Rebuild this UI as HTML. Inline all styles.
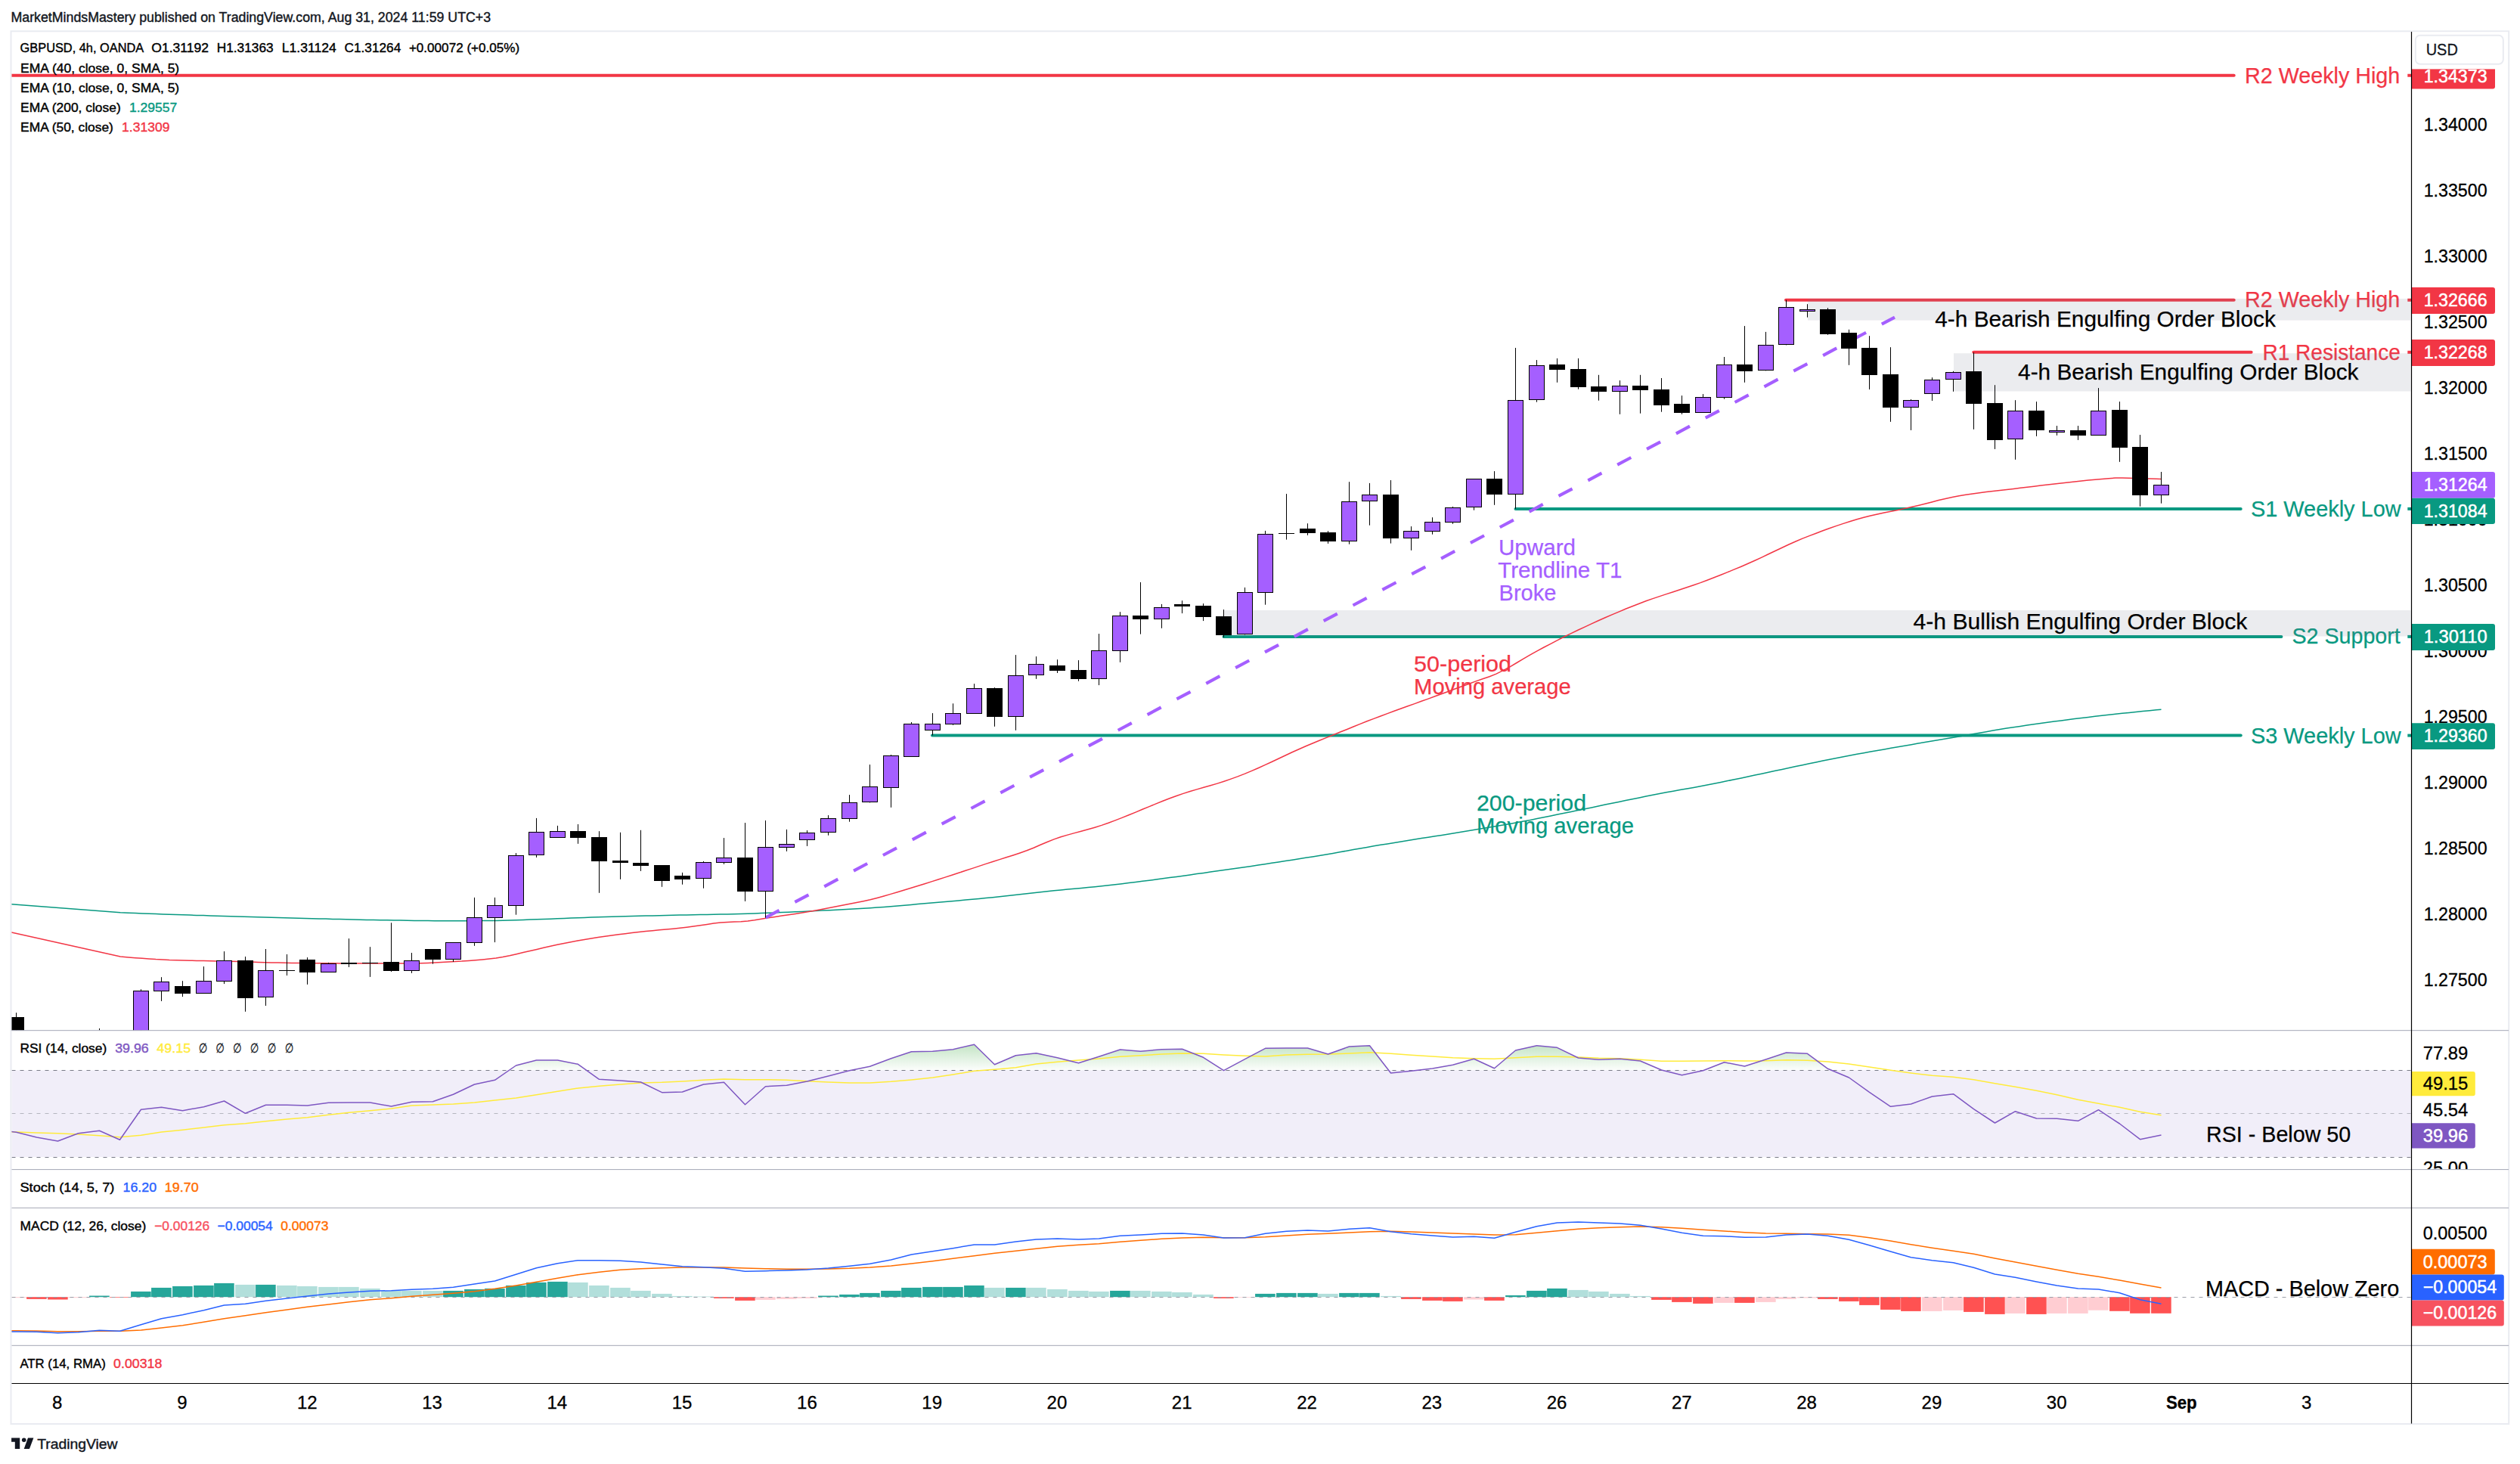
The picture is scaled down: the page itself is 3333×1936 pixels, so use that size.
<!DOCTYPE html>
<html><head><meta charset="utf-8"><title>GBPUSD 4h chart</title><style>html,body{margin:0;padding:0;background:#fff}svg{display:block}</style></head><body>
<svg width="3333" height="1936" viewBox="0 0 3333 1936" font-family='"Liberation Sans", "DejaVu Sans", sans-serif'>
<rect width="3333" height="1936" fill="#fff"/>
<defs>
<clipPath id="cm"><rect x="15.5" y="42" width="3173.5" height="1320.5"/></clipPath>
<clipPath id="cr"><rect x="15.5" y="1363" width="3173.5" height="183"/></clipPath>
<clipPath id="cra"><rect x="3190" y="1363" width="128" height="183.3"/></clipPath>
<clipPath id="cma"><rect x="3190" y="91.2" width="128" height="1271"/></clipPath>
<clipPath id="cd"><rect x="15.5" y="1598" width="3173.5" height="181"/></clipPath>
<linearGradient id="gg" gradientUnits="userSpaceOnUse" x1="0" y1="1372" x2="0" y2="1415"><stop offset="0" stop-color="#4caf50" stop-opacity="0.42"/><stop offset="1" stop-color="#4caf50" stop-opacity="0.02"/></linearGradient>
<clipPath id="cg"><rect x="15.5" y="1363" width="3173.5" height="52.3"/></clipPath>
</defs>
<rect x="14.5" y="41.3" width="3303.7" height="1841.7" fill="none" stroke="#e9ebf1" stroke-width="2"/>
<text x="14.5" y="28.9" font-size="17.6" fill="#131722" stroke="#131722" stroke-width="0.4" textLength="634.6" lengthAdjust="spacingAndGlyphs">MarketMindsMastery published on TradingView.com, Aug 31, 2024 11:59 UTC+3</text>
<g clip-path="url(#cm)">
<line x1="2362" y1="396.8" x2="2954.7" y2="396.8" stroke="#f23645" stroke-width="4" stroke-linecap="round"/>
<line x1="3184.3" y1="396.8" x2="3189" y2="396.8" stroke="#f23645" stroke-width="4"/>
<line x1="2610.3" y1="465.8" x2="2977.6" y2="465.8" stroke="#f23645" stroke-width="4" stroke-linecap="round"/>
<line x1="3184.3" y1="465.8" x2="3189" y2="465.8" stroke="#f23645" stroke-width="4"/>
<line x1="8" y1="99.7" x2="2954.7" y2="99.7" stroke="#f23645" stroke-width="4" stroke-linecap="round"/>
<line x1="3184.3" y1="99.7" x2="3189" y2="99.7" stroke="#f23645" stroke-width="4"/>
<line x1="2004.5" y1="672.9" x2="2963.7" y2="672.9" stroke="#089981" stroke-width="4" stroke-linecap="round"/>
<line x1="3184.3" y1="672.9" x2="3189" y2="672.9" stroke="#089981" stroke-width="4"/>
<line x1="1618.5" y1="841.9" x2="3017.4" y2="841.9" stroke="#089981" stroke-width="4" stroke-linecap="round"/>
<line x1="3184.3" y1="841.9" x2="3189" y2="841.9" stroke="#089981" stroke-width="4"/>
<line x1="1233" y1="972.6" x2="2963.7" y2="972.6" stroke="#089981" stroke-width="4" stroke-linecap="round"/>
<line x1="3184.3" y1="972.6" x2="3189" y2="972.6" stroke="#089981" stroke-width="4"/>
<text x="2969.0" y="109.9" font-size="30" fill="#f23645" stroke="#f23645" stroke-width="0.25" textLength="205.3" lengthAdjust="spacingAndGlyphs">R2 Weekly High</text>
<text x="2969.0" y="405.7" font-size="30" fill="#f23645" stroke="#f23645" stroke-width="0.25" textLength="205.3" lengthAdjust="spacingAndGlyphs">R2 Weekly High</text>
<text x="2992.5" y="475.7" font-size="30" fill="#f23645" stroke="#f23645" stroke-width="0.25" textLength="182.3" lengthAdjust="spacingAndGlyphs">R1 Resistance</text>
<text x="2977.0" y="682.9" font-size="30" fill="#089981" stroke="#089981" stroke-width="0.25" textLength="198.6" lengthAdjust="spacingAndGlyphs">S1 Weekly Low</text>
<text x="3031.5" y="850.8" font-size="30" fill="#089981" stroke="#089981" stroke-width="0.25" textLength="143.3" lengthAdjust="spacingAndGlyphs">S2 Support</text>
<text x="2977.0" y="982.6" font-size="30" fill="#089981" stroke="#089981" stroke-width="0.25" textLength="198.6" lengthAdjust="spacingAndGlyphs">S3 Weekly Low</text>
<rect x="2391" y="395" width="797.5" height="28.6" fill="rgba(115,122,142,0.145)"/>
<rect x="2584" y="467.2" width="604.5" height="50.3" fill="rgba(115,122,142,0.145)"/>
<rect x="1619.4" y="807" width="1569.1" height="34.5" fill="rgba(115,122,142,0.145)"/>
<text x="2559.3" y="432.0" font-size="30" fill="#000" stroke="#000" stroke-width="0.25" textLength="450.5" lengthAdjust="spacingAndGlyphs">4-h Bearish Engulfing Order Block</text>
<text x="2669.1" y="501.9" font-size="30" fill="#000" stroke="#000" stroke-width="0.25" textLength="450.4" lengthAdjust="spacingAndGlyphs">4-h Bearish Engulfing Order Block</text>
<text x="2530.6" y="831.9" font-size="30" fill="#000" stroke="#000" stroke-width="0.25" textLength="441.8" lengthAdjust="spacingAndGlyphs">4-h Bullish Engulfing Order Block</text>
<polyline points="10.0,1195.4 15.3,1195.8 159.2,1206.7 170.0,1207.2 179.0,1207.6 188.0,1207.9 197.0,1208.3 206.0,1208.6 215.0,1209.0 224.0,1209.3 233.0,1209.6 242.0,1209.8 251.0,1210.1 260.0,1210.4 269.0,1210.6 278.0,1210.9 287.0,1211.2 296.0,1211.4 305.0,1211.7 314.0,1211.9 323.0,1212.2 332.0,1212.4 341.0,1212.7 350.0,1212.9 359.0,1213.2 368.0,1213.4 377.0,1213.7 386.0,1214.0 395.0,1214.2 404.0,1214.4 413.0,1214.7 422.0,1214.9 431.0,1215.1 440.0,1215.4 449.0,1215.6 458.0,1215.8 467.0,1216.0 476.0,1216.2 485.0,1216.4 494.0,1216.5 503.0,1216.7 512.0,1216.8 521.0,1217.0 530.0,1217.1 539.0,1217.2 548.0,1217.4 557.0,1217.5 566.0,1217.6 575.0,1217.7 584.0,1217.7 593.0,1217.8 602.0,1217.8 611.0,1217.8 620.0,1217.7 629.0,1217.7 638.0,1217.6 647.0,1217.5 656.0,1217.4 665.0,1217.2 674.0,1217.0 683.0,1216.7 692.0,1216.4 701.0,1216.1 710.0,1215.8 719.0,1215.5 728.0,1215.2 737.0,1214.8 746.0,1214.5 755.0,1214.1 764.0,1213.8 773.0,1213.5 782.0,1213.1 791.0,1212.8 800.0,1212.5 809.0,1212.3 818.0,1212.0 827.0,1211.8 836.0,1211.5 845.0,1211.3 854.0,1211.1 863.0,1210.9 872.0,1210.7 881.0,1210.5 890.0,1210.3 899.0,1210.1 908.0,1209.9 917.0,1209.7 926.0,1209.5 935.0,1209.4 944.0,1209.2 953.0,1209.0 962.0,1208.9 971.0,1208.7 980.0,1208.5 989.0,1208.2 998.0,1207.9 1007.0,1207.6 1016.0,1207.3 1025.0,1207.0 1034.0,1206.6 1043.0,1206.2 1052.0,1205.8 1061.0,1205.4 1070.0,1205.0 1079.0,1204.6 1088.0,1204.1 1097.0,1203.7 1106.0,1203.3 1115.0,1202.8 1124.0,1202.3 1133.0,1201.8 1142.0,1201.3 1151.0,1200.7 1160.0,1200.1 1169.0,1199.4 1178.0,1198.7 1187.0,1198.0 1196.0,1197.2 1205.0,1196.4 1214.0,1195.6 1223.0,1194.8 1232.0,1194.0 1241.0,1193.3 1250.0,1192.5 1259.0,1191.7 1268.0,1190.9 1277.0,1190.1 1286.0,1189.3 1295.0,1188.4 1304.0,1187.6 1313.0,1186.7 1322.0,1185.8 1331.0,1184.8 1340.0,1183.8 1349.0,1182.8 1358.0,1181.8 1367.0,1180.8 1376.0,1179.8 1385.0,1178.8 1394.0,1177.8 1403.0,1176.9 1412.0,1176.0 1421.0,1175.2 1430.0,1174.4 1439.0,1173.6 1448.0,1172.7 1457.0,1171.7 1466.0,1170.7 1475.0,1169.7 1484.0,1168.7 1493.0,1167.6 1502.0,1166.5 1511.0,1165.3 1520.0,1164.2 1529.0,1163.0 1538.0,1161.8 1547.0,1160.6 1556.0,1159.4 1565.0,1158.2 1574.0,1156.9 1583.0,1155.6 1592.0,1154.4 1601.0,1153.1 1610.0,1151.8 1619.0,1150.5 1628.0,1149.2 1637.0,1147.9 1646.0,1146.7 1655.0,1145.4 1664.0,1144.0 1673.0,1142.7 1682.0,1141.3 1691.0,1140.0 1700.0,1138.6 1709.0,1137.2 1718.0,1135.8 1727.0,1134.3 1736.0,1132.9 1745.0,1131.4 1754.0,1129.9 1763.0,1128.4 1772.0,1126.8 1781.0,1125.2 1790.0,1123.6 1799.0,1122.0 1808.0,1120.4 1817.0,1118.8 1826.0,1117.3 1835.0,1115.9 1844.0,1114.4 1853.0,1112.9 1862.0,1111.5 1871.0,1110.1 1880.0,1108.6 1889.0,1107.2 1898.0,1105.8 1907.0,1104.4 1916.0,1102.9 1925.0,1101.5 1934.0,1100.0 1943.0,1098.6 1952.0,1097.1 1961.0,1095.6 1970.0,1094.0 1979.0,1092.5 1988.0,1091.0 1997.0,1089.4 2006.0,1087.8 2015.0,1086.1 2024.0,1084.4 2033.0,1082.6 2042.0,1080.8 2051.0,1079.0 2060.0,1077.1 2069.0,1075.2 2078.0,1073.4 2087.0,1071.5 2096.0,1069.7 2105.0,1067.9 2114.0,1066.0 2123.0,1064.1 2132.0,1062.3 2141.0,1060.4 2150.0,1058.6 2159.0,1056.7 2168.0,1054.9 2177.0,1053.1 2186.0,1051.3 2195.0,1049.6 2204.0,1047.8 2213.0,1046.2 2222.0,1044.6 2231.0,1043.0 2240.0,1041.4 2249.0,1039.7 2258.0,1038.0 2267.0,1036.2 2276.0,1034.4 2285.0,1032.6 2294.0,1030.7 2303.0,1028.9 2312.0,1027.0 2321.0,1025.1 2330.0,1023.2 2339.0,1021.2 2348.0,1019.3 2357.0,1017.4 2366.0,1015.5 2375.0,1013.6 2384.0,1011.7 2393.0,1009.8 2402.0,1007.9 2411.0,1006.1 2420.0,1004.3 2429.0,1002.5 2438.0,1000.7 2447.0,999.0 2456.0,997.3 2465.0,995.7 2474.0,994.1 2483.0,992.5 2492.0,990.9 2501.0,989.3 2510.0,987.7 2519.0,986.2 2528.0,984.7 2537.0,983.1 2546.0,981.6 2555.0,980.1 2564.0,978.6 2573.0,977.1 2582.0,975.5 2591.0,974.0 2600.0,972.4 2609.0,970.8 2618.0,969.3 2627.0,967.7 2636.0,966.1 2645.0,964.6 2654.0,963.1 2663.0,961.7 2672.0,960.4 2681.0,959.0 2690.0,957.8 2699.0,956.5 2708.0,955.3 2717.0,954.1 2726.0,952.9 2735.0,951.7 2744.0,950.6 2753.0,949.5 2762.0,948.4 2771.0,947.3 2780.0,946.3 2789.0,945.3 2798.0,944.3 2807.0,943.3 2816.0,942.4 2825.0,941.4 2834.0,940.5 2843.0,939.7 2852.0,938.8 2858.5,938.2" fill="none" stroke="#089981" stroke-width="1.5" stroke-linejoin="round"/>
<polyline points="10.0,1232.0 15.3,1233.1 159.2,1265.0 170.0,1265.9 179.0,1266.7 188.0,1267.3 197.0,1267.9 206.0,1268.5 215.0,1268.9 224.0,1269.4 233.0,1269.7 242.0,1270.0 251.0,1270.2 260.0,1270.4 269.0,1270.6 278.0,1270.7 287.0,1270.9 296.0,1271.1 305.0,1271.3 314.0,1271.5 323.0,1271.8 332.0,1272.1 341.0,1272.4 350.0,1272.7 359.0,1272.9 368.0,1273.1 377.0,1273.3 386.0,1273.4 395.0,1273.5 404.0,1273.6 413.0,1273.7 422.0,1273.7 431.0,1273.8 440.0,1273.8 449.0,1273.9 458.0,1273.9 467.0,1273.9 476.0,1273.9 485.0,1273.9 494.0,1273.9 503.0,1273.9 512.0,1273.9 521.0,1273.9 530.0,1273.9 539.0,1273.9 548.0,1273.9 557.0,1273.7 566.0,1273.4 575.0,1273.0 584.0,1272.6 593.0,1272.1 602.0,1271.6 611.0,1271.1 620.0,1270.4 629.0,1269.8 638.0,1269.0 647.0,1268.0 656.0,1267.0 665.0,1265.6 674.0,1263.8 683.0,1261.7 692.0,1259.6 701.0,1257.6 710.0,1255.5 719.0,1253.3 728.0,1251.2 737.0,1249.2 746.0,1247.4 755.0,1245.7 764.0,1244.0 773.0,1242.5 782.0,1241.0 791.0,1239.6 800.0,1238.3 809.0,1237.0 818.0,1235.8 827.0,1234.7 836.0,1233.6 845.0,1232.6 854.0,1231.6 863.0,1230.7 872.0,1229.8 881.0,1229.0 890.0,1228.2 899.0,1227.3 908.0,1226.3 917.0,1225.1 926.0,1223.7 935.0,1222.4 944.0,1221.1 953.0,1220.1 962.0,1219.5 971.0,1219.1 980.0,1218.7 989.0,1218.0 998.0,1216.8 1007.0,1215.2 1016.0,1213.8 1025.0,1212.4 1034.0,1211.1 1043.0,1209.8 1052.0,1208.4 1061.0,1207.0 1070.0,1205.5 1079.0,1203.9 1088.0,1202.3 1097.0,1200.5 1106.0,1198.8 1115.0,1197.0 1124.0,1195.3 1133.0,1193.6 1142.0,1191.8 1151.0,1189.8 1160.0,1187.5 1169.0,1185.0 1178.0,1182.4 1187.0,1179.7 1196.0,1177.0 1205.0,1174.3 1214.0,1171.5 1223.0,1168.7 1232.0,1165.9 1241.0,1163.0 1250.0,1160.1 1259.0,1157.2 1268.0,1154.3 1277.0,1151.3 1286.0,1148.4 1295.0,1145.4 1304.0,1142.4 1313.0,1139.5 1322.0,1136.6 1331.0,1133.8 1340.0,1131.0 1349.0,1128.0 1358.0,1124.8 1367.0,1121.2 1376.0,1117.3 1385.0,1113.5 1394.0,1109.9 1403.0,1106.8 1412.0,1104.1 1421.0,1101.6 1430.0,1099.2 1439.0,1096.8 1448.0,1094.2 1457.0,1091.4 1466.0,1088.3 1475.0,1084.9 1484.0,1081.4 1493.0,1077.8 1502.0,1074.1 1511.0,1070.3 1520.0,1066.6 1529.0,1062.9 1538.0,1059.3 1547.0,1055.8 1556.0,1052.5 1565.0,1049.4 1574.0,1046.5 1583.0,1043.9 1592.0,1041.3 1601.0,1038.8 1610.0,1036.1 1619.0,1033.2 1628.0,1030.1 1637.0,1026.9 1646.0,1023.4 1655.0,1019.6 1664.0,1015.7 1673.0,1011.6 1682.0,1007.5 1691.0,1003.2 1700.0,999.0 1709.0,994.8 1718.0,990.7 1727.0,986.8 1736.0,983.0 1745.0,979.3 1754.0,975.6 1763.0,972.0 1772.0,968.3 1781.0,964.7 1790.0,961.0 1799.0,957.4 1808.0,953.8 1817.0,950.4 1826.0,947.0 1835.0,943.6 1844.0,940.3 1853.0,937.0 1862.0,933.8 1871.0,930.6 1880.0,927.3 1889.0,924.1 1898.0,920.8 1907.0,917.5 1916.0,914.2 1925.0,910.8 1934.0,907.5 1943.0,904.2 1952.0,900.9 1961.0,897.8 1970.0,894.7 1979.0,891.1 1988.0,886.7 1997.0,881.8 2006.0,876.5 2015.0,871.2 2024.0,865.9 2033.0,860.8 2042.0,856.0 2051.0,851.3 2060.0,846.6 2069.0,842.0 2078.0,837.6 2087.0,833.3 2096.0,829.1 2105.0,824.9 2114.0,820.8 2123.0,816.8 2132.0,812.9 2141.0,809.1 2150.0,805.3 2159.0,801.7 2168.0,798.2 2177.0,794.8 2186.0,791.6 2195.0,788.6 2204.0,785.6 2213.0,782.7 2222.0,779.8 2231.0,776.8 2240.0,773.7 2249.0,770.6 2258.0,767.2 2267.0,763.8 2276.0,760.2 2285.0,756.6 2294.0,752.9 2303.0,749.2 2312.0,745.3 2321.0,741.3 2330.0,737.1 2339.0,732.8 2348.0,728.5 2357.0,724.2 2366.0,720.0 2375.0,716.0 2384.0,712.1 2393.0,708.6 2402.0,705.2 2411.0,701.8 2420.0,698.5 2429.0,695.4 2438.0,692.4 2447.0,689.5 2456.0,686.8 2465.0,684.3 2474.0,682.0 2483.0,679.9 2492.0,678.0 2501.0,676.2 2510.0,674.4 2519.0,672.6 2528.0,670.6 2537.0,668.5 2546.0,666.2 2555.0,663.9 2564.0,661.6 2573.0,659.5 2582.0,657.6 2591.0,655.8 2600.0,654.3 2609.0,652.9 2618.0,651.7 2627.0,650.5 2636.0,649.4 2645.0,648.4 2654.0,647.4 2663.0,646.4 2672.0,645.3 2681.0,644.3 2690.0,643.2 2699.0,642.1 2708.0,641.0 2717.0,639.9 2726.0,638.9 2735.0,637.9 2744.0,636.9 2753.0,635.9 2762.0,635.1 2771.0,634.3 2780.0,633.5 2789.0,632.7 2798.0,632.1 2807.0,632.0 2816.0,632.3 2825.0,632.6 2834.0,632.9 2843.0,633.1 2852.0,633.3 2858.5,633.4" fill="none" stroke="#f23645" stroke-width="1.5" stroke-linejoin="round"/>
<line x1="1012.5" y1="1213.6" x2="2506" y2="419.6" stroke="#a55fff" stroke-width="4.2" stroke-dasharray="20.5 23.5"/>
<line x1="21.5" y1="1339.2" x2="21.5" y2="1375.0" stroke="#000" stroke-width="1"/>
<rect x="11.0" y="1345" width="21" height="30" fill="#000"/>
<line x1="131.5" y1="1360.0" x2="131.5" y2="1375.0" stroke="#000" stroke-width="1"/>
<line x1="186.5" y1="1308.3" x2="186.5" y2="1375.0" stroke="#000" stroke-width="1"/>
<rect x="176.5" y="1310.5" width="20" height="64" fill="#a55fff" stroke="#000" stroke-width="1"/>
<line x1="213.5" y1="1292.2" x2="213.5" y2="1323.9" stroke="#000" stroke-width="1"/>
<rect x="203.5" y="1298.5" width="20" height="12" fill="#a55fff" stroke="#000" stroke-width="1"/>
<line x1="241.5" y1="1297.2" x2="241.5" y2="1318.1" stroke="#000" stroke-width="1"/>
<rect x="231.0" y="1304" width="21" height="10" fill="#000"/>
<line x1="269.5" y1="1278.1" x2="269.5" y2="1313.6" stroke="#000" stroke-width="1"/>
<rect x="259.5" y="1297.5" width="20" height="16" fill="#a55fff" stroke="#000" stroke-width="1"/>
<line x1="296.5" y1="1258.1" x2="296.5" y2="1301.1" stroke="#000" stroke-width="1"/>
<rect x="286.5" y="1270.5" width="20" height="27" fill="#a55fff" stroke="#000" stroke-width="1"/>
<line x1="324.5" y1="1265.0" x2="324.5" y2="1337.8" stroke="#000" stroke-width="1"/>
<rect x="314.0" y="1270" width="21" height="50" fill="#000"/>
<line x1="351.5" y1="1255.0" x2="351.5" y2="1330.0" stroke="#000" stroke-width="1"/>
<rect x="341.5" y="1283.5" width="20" height="35" fill="#a55fff" stroke="#000" stroke-width="1"/>
<line x1="379.5" y1="1262.0" x2="379.5" y2="1290.0" stroke="#000" stroke-width="1"/>
<rect x="369.0" y="1283" width="21" height="1" fill="#000"/>
<line x1="406.5" y1="1266.1" x2="406.5" y2="1301.9" stroke="#000" stroke-width="1"/>
<rect x="396.0" y="1269" width="21" height="17" fill="#000"/>
<line x1="434.5" y1="1273.0" x2="434.5" y2="1285.6" stroke="#000" stroke-width="1"/>
<rect x="424.5" y="1274.5" width="20" height="11" fill="#a55fff" stroke="#000" stroke-width="1"/>
<line x1="461.5" y1="1241.1" x2="461.5" y2="1278.9" stroke="#000" stroke-width="1"/>
<rect x="451.0" y="1273" width="21" height="2" fill="#000"/>
<line x1="489.5" y1="1252.2" x2="489.5" y2="1291.9" stroke="#000" stroke-width="1"/>
<rect x="479.0" y="1273" width="21" height="1" fill="#000"/>
<line x1="517.5" y1="1220.3" x2="517.5" y2="1285.0" stroke="#000" stroke-width="1"/>
<rect x="507.0" y="1272" width="21" height="12" fill="#000"/>
<line x1="544.5" y1="1260.0" x2="544.5" y2="1286.9" stroke="#000" stroke-width="1"/>
<rect x="534.5" y="1270.5" width="20" height="13" fill="#a55fff" stroke="#000" stroke-width="1"/>
<line x1="572.5" y1="1255.0" x2="572.5" y2="1274.7" stroke="#000" stroke-width="1"/>
<rect x="562.0" y="1255" width="21" height="14" fill="#000"/>
<line x1="599.5" y1="1246.4" x2="599.5" y2="1271.9" stroke="#000" stroke-width="1"/>
<rect x="589.5" y="1246.5" width="20" height="22" fill="#a55fff" stroke="#000" stroke-width="1"/>
<line x1="627.5" y1="1186.9" x2="627.5" y2="1250.8" stroke="#000" stroke-width="1"/>
<rect x="617.5" y="1213.5" width="20" height="33" fill="#a55fff" stroke="#000" stroke-width="1"/>
<line x1="654.5" y1="1186.9" x2="654.5" y2="1246.1" stroke="#000" stroke-width="1"/>
<rect x="644.5" y="1197.5" width="20" height="16" fill="#a55fff" stroke="#000" stroke-width="1"/>
<line x1="682.5" y1="1128.1" x2="682.5" y2="1209.7" stroke="#000" stroke-width="1"/>
<rect x="672.5" y="1131.5" width="20" height="66" fill="#a55fff" stroke="#000" stroke-width="1"/>
<line x1="709.5" y1="1081.9" x2="709.5" y2="1133.9" stroke="#000" stroke-width="1"/>
<rect x="699.5" y="1100.5" width="20" height="30" fill="#a55fff" stroke="#000" stroke-width="1"/>
<line x1="737.5" y1="1091.9" x2="737.5" y2="1107.5" stroke="#000" stroke-width="1"/>
<rect x="727.5" y="1099.5" width="20" height="8" fill="#a55fff" stroke="#000" stroke-width="1"/>
<line x1="764.5" y1="1090.0" x2="764.5" y2="1115.8" stroke="#000" stroke-width="1"/>
<rect x="754.0" y="1099" width="21" height="9" fill="#000"/>
<line x1="792.5" y1="1099.2" x2="792.5" y2="1180.8" stroke="#000" stroke-width="1"/>
<rect x="782.0" y="1107" width="21" height="32" fill="#000"/>
<line x1="820.5" y1="1100.8" x2="820.5" y2="1162.8" stroke="#000" stroke-width="1"/>
<rect x="810.0" y="1138" width="21" height="3" fill="#000"/>
<line x1="847.5" y1="1097.8" x2="847.5" y2="1151.9" stroke="#000" stroke-width="1"/>
<rect x="837.0" y="1141" width="21" height="4" fill="#000"/>
<line x1="875.5" y1="1144.2" x2="875.5" y2="1172.8" stroke="#000" stroke-width="1"/>
<rect x="865.0" y="1144" width="21" height="21" fill="#000"/>
<line x1="902.5" y1="1153.9" x2="902.5" y2="1169.7" stroke="#000" stroke-width="1"/>
<rect x="892.0" y="1158" width="21" height="5" fill="#000"/>
<line x1="930.5" y1="1138.9" x2="930.5" y2="1174.7" stroke="#000" stroke-width="1"/>
<rect x="920.5" y="1140.5" width="20" height="21" fill="#a55fff" stroke="#000" stroke-width="1"/>
<line x1="957.5" y1="1108.1" x2="957.5" y2="1142.8" stroke="#000" stroke-width="1"/>
<rect x="947.5" y="1134.5" width="20" height="6" fill="#a55fff" stroke="#000" stroke-width="1"/>
<line x1="985.5" y1="1088.1" x2="985.5" y2="1191.9" stroke="#000" stroke-width="1"/>
<rect x="975.0" y="1134" width="21" height="45" fill="#000"/>
<line x1="1012.5" y1="1085.0" x2="1012.5" y2="1213.6" stroke="#000" stroke-width="1"/>
<rect x="1002.5" y="1120.5" width="20" height="58" fill="#a55fff" stroke="#000" stroke-width="1"/>
<line x1="1040.5" y1="1096.9" x2="1040.5" y2="1125.8" stroke="#000" stroke-width="1"/>
<rect x="1030.5" y="1116.5" width="20" height="4" fill="#a55fff" stroke="#000" stroke-width="1"/>
<line x1="1067.5" y1="1098.1" x2="1067.5" y2="1118.9" stroke="#000" stroke-width="1"/>
<rect x="1057.5" y="1101.5" width="20" height="9" fill="#a55fff" stroke="#000" stroke-width="1"/>
<line x1="1095.5" y1="1078.1" x2="1095.5" y2="1104.7" stroke="#000" stroke-width="1"/>
<rect x="1085.5" y="1082.5" width="20" height="18" fill="#a55fff" stroke="#000" stroke-width="1"/>
<line x1="1123.5" y1="1051.1" x2="1123.5" y2="1086.7" stroke="#000" stroke-width="1"/>
<rect x="1113.5" y="1061.5" width="20" height="21" fill="#a55fff" stroke="#000" stroke-width="1"/>
<line x1="1150.5" y1="1011.1" x2="1150.5" y2="1061.4" stroke="#000" stroke-width="1"/>
<rect x="1140.5" y="1040.5" width="20" height="20" fill="#a55fff" stroke="#000" stroke-width="1"/>
<line x1="1178.5" y1="998.1" x2="1178.5" y2="1067.8" stroke="#000" stroke-width="1"/>
<rect x="1168.5" y="999.5" width="20" height="42" fill="#a55fff" stroke="#000" stroke-width="1"/>
<line x1="1205.5" y1="955.0" x2="1205.5" y2="1000.6" stroke="#000" stroke-width="1"/>
<rect x="1195.5" y="957.5" width="20" height="43" fill="#a55fff" stroke="#000" stroke-width="1"/>
<line x1="1233.5" y1="943.1" x2="1233.5" y2="972.5" stroke="#000" stroke-width="1"/>
<rect x="1223.5" y="957.5" width="20" height="8" fill="#a55fff" stroke="#000" stroke-width="1"/>
<line x1="1260.5" y1="930.3" x2="1260.5" y2="958.8" stroke="#000" stroke-width="1"/>
<rect x="1250.5" y="943.5" width="20" height="14" fill="#a55fff" stroke="#000" stroke-width="1"/>
<line x1="1288.5" y1="904.2" x2="1288.5" y2="943.6" stroke="#000" stroke-width="1"/>
<rect x="1278.5" y="910.5" width="20" height="33" fill="#a55fff" stroke="#000" stroke-width="1"/>
<line x1="1315.5" y1="909.2" x2="1315.5" y2="960.8" stroke="#000" stroke-width="1"/>
<rect x="1305.0" y="910" width="21" height="38" fill="#000"/>
<line x1="1343.5" y1="866.1" x2="1343.5" y2="965.8" stroke="#000" stroke-width="1"/>
<rect x="1333.5" y="893.5" width="20" height="54" fill="#a55fff" stroke="#000" stroke-width="1"/>
<line x1="1370.5" y1="868.1" x2="1370.5" y2="897.8" stroke="#000" stroke-width="1"/>
<rect x="1360.5" y="878.5" width="20" height="14" fill="#a55fff" stroke="#000" stroke-width="1"/>
<line x1="1398.5" y1="872.2" x2="1398.5" y2="890.0" stroke="#000" stroke-width="1"/>
<rect x="1388.0" y="880" width="21" height="7" fill="#000"/>
<line x1="1426.5" y1="873.1" x2="1426.5" y2="900.8" stroke="#000" stroke-width="1"/>
<rect x="1416.0" y="886" width="21" height="12" fill="#000"/>
<line x1="1453.5" y1="838.1" x2="1453.5" y2="906.1" stroke="#000" stroke-width="1"/>
<rect x="1443.5" y="860.5" width="20" height="37" fill="#a55fff" stroke="#000" stroke-width="1"/>
<line x1="1481.5" y1="809.2" x2="1481.5" y2="875.8" stroke="#000" stroke-width="1"/>
<rect x="1471.5" y="814.5" width="20" height="46" fill="#a55fff" stroke="#000" stroke-width="1"/>
<line x1="1508.5" y1="770.0" x2="1508.5" y2="838.6" stroke="#000" stroke-width="1"/>
<rect x="1498.0" y="814" width="21" height="5" fill="#000"/>
<line x1="1536.5" y1="798.9" x2="1536.5" y2="830.8" stroke="#000" stroke-width="1"/>
<rect x="1526.5" y="803.5" width="20" height="15" fill="#a55fff" stroke="#000" stroke-width="1"/>
<line x1="1563.5" y1="794.2" x2="1563.5" y2="811.1" stroke="#000" stroke-width="1"/>
<rect x="1553.0" y="799" width="21" height="3" fill="#000"/>
<line x1="1591.5" y1="798.1" x2="1591.5" y2="821.1" stroke="#000" stroke-width="1"/>
<rect x="1581.0" y="801" width="21" height="15" fill="#000"/>
<line x1="1618.5" y1="806.1" x2="1618.5" y2="842.8" stroke="#000" stroke-width="1"/>
<rect x="1608.0" y="815" width="21" height="25" fill="#000"/>
<line x1="1646.5" y1="776.9" x2="1646.5" y2="839.4" stroke="#000" stroke-width="1"/>
<rect x="1636.5" y="783.5" width="20" height="55" fill="#a55fff" stroke="#000" stroke-width="1"/>
<line x1="1673.5" y1="701.9" x2="1673.5" y2="799.7" stroke="#000" stroke-width="1"/>
<rect x="1663.5" y="706.5" width="20" height="77" fill="#a55fff" stroke="#000" stroke-width="1"/>
<line x1="1701.5" y1="653.1" x2="1701.5" y2="713.6" stroke="#000" stroke-width="1"/>
<rect x="1691.0" y="705" width="21" height="1" fill="#000"/>
<line x1="1729.5" y1="692.2" x2="1729.5" y2="707.8" stroke="#000" stroke-width="1"/>
<rect x="1719.0" y="699" width="21" height="6" fill="#000"/>
<line x1="1756.5" y1="702.2" x2="1756.5" y2="718.9" stroke="#000" stroke-width="1"/>
<rect x="1746.0" y="704" width="21" height="12" fill="#000"/>
<line x1="1784.5" y1="637.2" x2="1784.5" y2="719.7" stroke="#000" stroke-width="1"/>
<rect x="1774.5" y="663.5" width="20" height="52" fill="#a55fff" stroke="#000" stroke-width="1"/>
<line x1="1811.5" y1="638.9" x2="1811.5" y2="694.7" stroke="#000" stroke-width="1"/>
<rect x="1801.5" y="654.5" width="20" height="8" fill="#a55fff" stroke="#000" stroke-width="1"/>
<line x1="1839.5" y1="635.0" x2="1839.5" y2="718.6" stroke="#000" stroke-width="1"/>
<rect x="1829.0" y="654" width="21" height="58" fill="#000"/>
<line x1="1866.5" y1="696.1" x2="1866.5" y2="727.8" stroke="#000" stroke-width="1"/>
<rect x="1856.5" y="702.5" width="20" height="9" fill="#a55fff" stroke="#000" stroke-width="1"/>
<line x1="1894.5" y1="684.2" x2="1894.5" y2="706.7" stroke="#000" stroke-width="1"/>
<rect x="1884.5" y="690.5" width="20" height="12" fill="#a55fff" stroke="#000" stroke-width="1"/>
<line x1="1921.5" y1="670.0" x2="1921.5" y2="692.8" stroke="#000" stroke-width="1"/>
<rect x="1911.5" y="671.5" width="20" height="19" fill="#a55fff" stroke="#000" stroke-width="1"/>
<line x1="1949.5" y1="633.3" x2="1949.5" y2="674.7" stroke="#000" stroke-width="1"/>
<rect x="1939.5" y="633.5" width="20" height="37" fill="#a55fff" stroke="#000" stroke-width="1"/>
<line x1="1976.5" y1="623.1" x2="1976.5" y2="667.8" stroke="#000" stroke-width="1"/>
<rect x="1966.0" y="633" width="21" height="21" fill="#000"/>
<line x1="2004.5" y1="460.0" x2="2004.5" y2="672.8" stroke="#000" stroke-width="1"/>
<rect x="1994.5" y="529.5" width="20" height="124" fill="#a55fff" stroke="#000" stroke-width="1"/>
<line x1="2032.5" y1="476.1" x2="2032.5" y2="531.7" stroke="#000" stroke-width="1"/>
<rect x="2022.5" y="483.5" width="20" height="45" fill="#a55fff" stroke="#000" stroke-width="1"/>
<line x1="2059.5" y1="473.9" x2="2059.5" y2="505.8" stroke="#000" stroke-width="1"/>
<rect x="2049.0" y="482" width="21" height="7" fill="#000"/>
<line x1="2087.5" y1="473.9" x2="2087.5" y2="514.7" stroke="#000" stroke-width="1"/>
<rect x="2077.0" y="488" width="21" height="24" fill="#000"/>
<line x1="2114.5" y1="495.8" x2="2114.5" y2="529.7" stroke="#000" stroke-width="1"/>
<rect x="2104.0" y="511" width="21" height="7" fill="#000"/>
<line x1="2142.5" y1="503.1" x2="2142.5" y2="547.8" stroke="#000" stroke-width="1"/>
<rect x="2132.5" y="510.5" width="20" height="7" fill="#a55fff" stroke="#000" stroke-width="1"/>
<line x1="2169.5" y1="495.8" x2="2169.5" y2="546.7" stroke="#000" stroke-width="1"/>
<rect x="2159.0" y="510" width="21" height="6" fill="#000"/>
<line x1="2197.5" y1="500.0" x2="2197.5" y2="544.7" stroke="#000" stroke-width="1"/>
<rect x="2187.0" y="515" width="21" height="21" fill="#000"/>
<line x1="2224.5" y1="523.1" x2="2224.5" y2="547.8" stroke="#000" stroke-width="1"/>
<rect x="2214.0" y="534" width="21" height="12" fill="#000"/>
<line x1="2252.5" y1="521.1" x2="2252.5" y2="545.6" stroke="#000" stroke-width="1"/>
<rect x="2242.5" y="525.5" width="20" height="20" fill="#a55fff" stroke="#000" stroke-width="1"/>
<line x1="2280.5" y1="472.0" x2="2280.5" y2="527.7" stroke="#000" stroke-width="1"/>
<rect x="2270.5" y="482.5" width="20" height="43" fill="#a55fff" stroke="#000" stroke-width="1"/>
<line x1="2307.5" y1="431.1" x2="2307.5" y2="505.8" stroke="#000" stroke-width="1"/>
<rect x="2297.0" y="482" width="21" height="9" fill="#000"/>
<line x1="2335.5" y1="438.9" x2="2335.5" y2="490.3" stroke="#000" stroke-width="1"/>
<rect x="2325.5" y="456.5" width="20" height="33" fill="#a55fff" stroke="#000" stroke-width="1"/>
<line x1="2362.5" y1="396.7" x2="2362.5" y2="456.4" stroke="#000" stroke-width="1"/>
<rect x="2352.5" y="406.5" width="20" height="49" fill="#a55fff" stroke="#000" stroke-width="1"/>
<line x1="2390.5" y1="402.2" x2="2390.5" y2="419.7" stroke="#000" stroke-width="1"/>
<rect x="2380.5" y="409.5" width="20" height="2" fill="#a55fff" stroke="#000" stroke-width="1"/>
<line x1="2417.5" y1="407.2" x2="2417.5" y2="442.8" stroke="#000" stroke-width="1"/>
<rect x="2407.0" y="409" width="21" height="33" fill="#000"/>
<line x1="2445.5" y1="435.8" x2="2445.5" y2="482.8" stroke="#000" stroke-width="1"/>
<rect x="2435.0" y="440" width="21" height="21" fill="#000"/>
<line x1="2472.5" y1="444.2" x2="2472.5" y2="515.0" stroke="#000" stroke-width="1"/>
<rect x="2462.0" y="460" width="21" height="36" fill="#000"/>
<line x1="2500.5" y1="459.2" x2="2500.5" y2="557.8" stroke="#000" stroke-width="1"/>
<rect x="2490.0" y="495" width="21" height="44" fill="#000"/>
<line x1="2527.5" y1="528.1" x2="2527.5" y2="568.9" stroke="#000" stroke-width="1"/>
<rect x="2517.5" y="529.5" width="20" height="9" fill="#a55fff" stroke="#000" stroke-width="1"/>
<line x1="2555.5" y1="499.2" x2="2555.5" y2="530.0" stroke="#000" stroke-width="1"/>
<rect x="2545.5" y="502.5" width="20" height="18" fill="#a55fff" stroke="#000" stroke-width="1"/>
<line x1="2583.5" y1="490.8" x2="2583.5" y2="517.8" stroke="#000" stroke-width="1"/>
<rect x="2573.5" y="492.5" width="20" height="9" fill="#a55fff" stroke="#000" stroke-width="1"/>
<line x1="2610.5" y1="466.1" x2="2610.5" y2="567.8" stroke="#000" stroke-width="1"/>
<rect x="2600.0" y="491" width="21" height="43" fill="#000"/>
<line x1="2638.5" y1="509.2" x2="2638.5" y2="593.9" stroke="#000" stroke-width="1"/>
<rect x="2628.0" y="533" width="21" height="49" fill="#000"/>
<line x1="2665.5" y1="529.2" x2="2665.5" y2="607.8" stroke="#000" stroke-width="1"/>
<rect x="2655.5" y="543.5" width="20" height="37" fill="#a55fff" stroke="#000" stroke-width="1"/>
<line x1="2693.5" y1="531.1" x2="2693.5" y2="576.9" stroke="#000" stroke-width="1"/>
<rect x="2683.0" y="543" width="21" height="26" fill="#000"/>
<line x1="2720.5" y1="563.1" x2="2720.5" y2="575.8" stroke="#000" stroke-width="1"/>
<rect x="2710.5" y="569.5" width="20" height="2" fill="#a55fff" stroke="#000" stroke-width="1"/>
<line x1="2748.5" y1="563.1" x2="2748.5" y2="581.9" stroke="#000" stroke-width="1"/>
<rect x="2738.0" y="569" width="21" height="7" fill="#000"/>
<line x1="2775.5" y1="513.1" x2="2775.5" y2="575.6" stroke="#000" stroke-width="1"/>
<rect x="2765.5" y="543.5" width="20" height="32" fill="#a55fff" stroke="#000" stroke-width="1"/>
<line x1="2803.5" y1="531.1" x2="2803.5" y2="610.8" stroke="#000" stroke-width="1"/>
<rect x="2793.0" y="542" width="21" height="50" fill="#000"/>
<line x1="2830.5" y1="575.0" x2="2830.5" y2="669.7" stroke="#000" stroke-width="1"/>
<rect x="2820.0" y="591" width="21" height="64" fill="#000"/>
<line x1="2858.5" y1="624.0" x2="2858.5" y2="665.7" stroke="#000" stroke-width="1"/>
<rect x="2848.5" y="641.5" width="20" height="13" fill="#a55fff" stroke="#000" stroke-width="1"/>
</g>
<text x="1981.9" y="733.7" font-size="30" fill="#a55fff" stroke="#a55fff" stroke-width="0.25" textLength="102.1" lengthAdjust="spacingAndGlyphs">Upward</text>
<text x="1981.2" y="764.0" font-size="30" fill="#a55fff" stroke="#a55fff" stroke-width="0.25" textLength="164.2" lengthAdjust="spacingAndGlyphs">Trendline T1</text>
<text x="1982.6" y="793.8" font-size="30" fill="#a55fff" stroke="#a55fff" stroke-width="0.25" textLength="75.7" lengthAdjust="spacingAndGlyphs">Broke</text>
<text x="1870.1" y="888.3" font-size="30" fill="#f23645" stroke="#f23645" stroke-width="0.25" textLength="129.0" lengthAdjust="spacingAndGlyphs">50-period</text>
<text x="1870.1" y="918.3" font-size="30" fill="#f23645" stroke="#f23645" stroke-width="0.25" textLength="207.7" lengthAdjust="spacingAndGlyphs">Moving average</text>
<text x="1953.0" y="1072.2" font-size="30" fill="#089981" stroke="#089981" stroke-width="0.25" textLength="145.0" lengthAdjust="spacingAndGlyphs">200-period</text>
<text x="1953.0" y="1102.2" font-size="30" fill="#089981" stroke="#089981" stroke-width="0.25" textLength="208.0" lengthAdjust="spacingAndGlyphs">Moving average</text>
<text x="26.6" y="69.3" font-size="17.4" fill="#000" stroke="#000" stroke-width="0.4" textLength="163.6" lengthAdjust="spacingAndGlyphs">GBPUSD, 4h, OANDA</text>
<text x="200.3" y="69.3" font-size="17.4" fill="#000" stroke="#000" stroke-width="0.4" textLength="75.8" lengthAdjust="spacingAndGlyphs">O1.31192</text>
<text x="286.7" y="69.3" font-size="17.4" fill="#000" stroke="#000" stroke-width="0.4" textLength="74.9" lengthAdjust="spacingAndGlyphs">H1.31363</text>
<text x="372.8" y="69.3" font-size="17.4" fill="#000" stroke="#000" stroke-width="0.4" textLength="72.1" lengthAdjust="spacingAndGlyphs">L1.31124</text>
<text x="455.6" y="69.3" font-size="17.4" fill="#000" stroke="#000" stroke-width="0.4" textLength="74.6" lengthAdjust="spacingAndGlyphs">C1.31264</text>
<text x="540.9" y="69.3" font-size="17.4" fill="#000" stroke="#000" stroke-width="0.4" textLength="146.3" lengthAdjust="spacingAndGlyphs">+0.00072 (+0.05%)</text>
<text x="27.1" y="95.8" font-size="17.4" fill="#000" stroke="#000" stroke-width="0.4" textLength="210.1" lengthAdjust="spacingAndGlyphs">EMA (40, close, 0, SMA, 5)</text>
<text x="27.1" y="121.6" font-size="17.4" fill="#000" stroke="#000" stroke-width="0.4" textLength="210.1" lengthAdjust="spacingAndGlyphs">EMA (10, close, 0, SMA, 5)</text>
<text x="27.1" y="147.7" font-size="17.4" fill="#000" stroke="#000" stroke-width="0.4" textLength="132.6" lengthAdjust="spacingAndGlyphs">EMA (200, close)</text>
<text x="170.9" y="147.7" font-size="17.4" fill="#089981" stroke="#089981" stroke-width="0.4" textLength="63.5" lengthAdjust="spacingAndGlyphs">1.29557</text>
<text x="27.1" y="173.7" font-size="17.4" fill="#000" stroke="#000" stroke-width="0.4" textLength="122.8" lengthAdjust="spacingAndGlyphs">EMA (50, close)</text>
<text x="161.1" y="173.7" font-size="17.4" fill="#f23645" stroke="#f23645" stroke-width="0.4" textLength="63.3" lengthAdjust="spacingAndGlyphs">1.31309</text>
<text x="3205.7" y="172.8" font-size="24" fill="#000" stroke="#000" stroke-width="0.3" textLength="83.9" lengthAdjust="spacingAndGlyphs">1.34000</text>
<text x="3205.7" y="259.8" font-size="24" fill="#000" stroke="#000" stroke-width="0.3" textLength="83.9" lengthAdjust="spacingAndGlyphs">1.33500</text>
<text x="3205.7" y="346.8" font-size="24" fill="#000" stroke="#000" stroke-width="0.3" textLength="83.9" lengthAdjust="spacingAndGlyphs">1.33000</text>
<text x="3205.7" y="433.8" font-size="24" fill="#000" stroke="#000" stroke-width="0.3" textLength="83.9" lengthAdjust="spacingAndGlyphs">1.32500</text>
<text x="3205.7" y="520.8" font-size="24" fill="#000" stroke="#000" stroke-width="0.3" textLength="83.9" lengthAdjust="spacingAndGlyphs">1.32000</text>
<text x="3205.7" y="607.8" font-size="24" fill="#000" stroke="#000" stroke-width="0.3" textLength="83.9" lengthAdjust="spacingAndGlyphs">1.31500</text>
<text x="3205.7" y="694.8" font-size="24" fill="#000" stroke="#000" stroke-width="0.3" textLength="83.9" lengthAdjust="spacingAndGlyphs">1.31000</text>
<text x="3205.7" y="781.8" font-size="24" fill="#000" stroke="#000" stroke-width="0.3" textLength="83.9" lengthAdjust="spacingAndGlyphs">1.30500</text>
<text x="3205.7" y="868.8" font-size="24" fill="#000" stroke="#000" stroke-width="0.3" textLength="83.9" lengthAdjust="spacingAndGlyphs">1.30000</text>
<text x="3205.7" y="955.8" font-size="24" fill="#000" stroke="#000" stroke-width="0.3" textLength="83.9" lengthAdjust="spacingAndGlyphs">1.29500</text>
<text x="3205.7" y="1042.8" font-size="24" fill="#000" stroke="#000" stroke-width="0.3" textLength="83.9" lengthAdjust="spacingAndGlyphs">1.29000</text>
<text x="3205.7" y="1129.8" font-size="24" fill="#000" stroke="#000" stroke-width="0.3" textLength="83.9" lengthAdjust="spacingAndGlyphs">1.28500</text>
<text x="3205.7" y="1216.8" font-size="24" fill="#000" stroke="#000" stroke-width="0.3" textLength="83.9" lengthAdjust="spacingAndGlyphs">1.28000</text>
<text x="3205.7" y="1303.8" font-size="24" fill="#000" stroke="#000" stroke-width="0.3" textLength="83.9" lengthAdjust="spacingAndGlyphs">1.27500</text>
<path d="M3190 91.2h110v23.4a3 3 0 0 1 -3 3h-107z" fill="#f23645"/>
<text x="3205.7" y="109.3" font-size="24" fill="#fff" stroke="#fff" stroke-width="0.5" textLength="83.9" lengthAdjust="spacingAndGlyphs">1.34373</text>
<path d="M3190 380h107a3 3 0 0 1 3 3v29a3 3 0 0 1 -3 3h-107z" fill="#f23645"/>
<text x="3205.7" y="405.3" font-size="24" fill="#fff" stroke="#fff" stroke-width="0.5" textLength="83.9" lengthAdjust="spacingAndGlyphs">1.32666</text>
<path d="M3190 449h107a3 3 0 0 1 3 3v29a3 3 0 0 1 -3 3h-107z" fill="#f23645"/>
<text x="3205.7" y="474.3" font-size="24" fill="#fff" stroke="#fff" stroke-width="0.5" textLength="83.9" lengthAdjust="spacingAndGlyphs">1.32268</text>
<path d="M3190 624h107a3 3 0 0 1 3 3v28.799999999999955a3 3 0 0 1 -3 3h-107z" fill="#a55fff"/>
<text x="3205.7" y="649.2" font-size="24" fill="#fff" stroke="#fff" stroke-width="0.5" textLength="83.9" lengthAdjust="spacingAndGlyphs">1.31264</text>
<path d="M3190 658.8h107a3 3 0 0 1 3 3v28.300000000000068a3 3 0 0 1 -3 3h-107z" fill="#089981"/>
<text x="3205.7" y="683.8" font-size="24" fill="#fff" stroke="#fff" stroke-width="0.5" textLength="83.9" lengthAdjust="spacingAndGlyphs">1.31084</text>
<path d="M3190 825h107a3 3 0 0 1 3 3v29a3 3 0 0 1 -3 3h-107z" fill="#089981"/>
<text x="3205.7" y="850.3" font-size="24" fill="#fff" stroke="#fff" stroke-width="0.5" textLength="83.9" lengthAdjust="spacingAndGlyphs">1.30110</text>
<path d="M3190 956.3h107a3 3 0 0 1 3 3v28.700000000000045a3 3 0 0 1 -3 3h-107z" fill="#089981"/>
<text x="3205.7" y="981.4" font-size="24" fill="#fff" stroke="#fff" stroke-width="0.5" textLength="83.9" lengthAdjust="spacingAndGlyphs">1.29360</text>
<rect x="3190.2" y="42.5" width="126.8" height="48.7" fill="#fff"/>
<rect x="3194.8" y="46.8" width="116" height="38" rx="6" fill="#fff" stroke="#e9ebf1" stroke-width="2"/>
<text x="3208.7" y="73.3" font-size="22" fill="#131722" stroke="#131722" stroke-width="0.3" textLength="42.2" lengthAdjust="spacingAndGlyphs">USD</text>
<g clip-path="url(#cr)">
<rect x="15.5" y="1415.3" width="3173.5" height="114.8" fill="#f1eef9"/>
<path d="M10.0 1496.0 L21.5 1497.3 L48.5 1504.0 L76.5 1509.0 L103.5 1498.7 L131.5 1495.3 L158.5 1507.3 L186.5 1467.3 L213.5 1464.3 L241.5 1468.7 L269.5 1463.7 L296.5 1456.0 L324.5 1472.3 L351.5 1461.3 L379.5 1461.3 L406.5 1462.0 L434.5 1458.3 L461.5 1458.0 L489.5 1458.0 L517.5 1463.0 L544.5 1457.3 L572.5 1456.7 L599.5 1447.3 L627.5 1434.0 L654.5 1428.3 L682.5 1409.0 L709.5 1402.0 L737.5 1402.0 L764.5 1407.3 L792.5 1427.3 L820.5 1429.0 L847.5 1431.0 L875.5 1444.7 L902.5 1444.0 L930.5 1434.0 L957.5 1431.3 L985.5 1460.7 L1012.5 1436.7 L1040.5 1435.3 L1067.5 1430.0 L1095.5 1423.0 L1123.5 1415.7 L1150.5 1410.3 L1178.5 1399.7 L1205.5 1390.7 L1233.5 1390.3 L1260.5 1387.7 L1288.5 1381.3 L1315.5 1407.7 L1343.5 1395.7 L1370.5 1392.7 L1398.5 1398.7 L1426.5 1405.7 L1453.5 1397.3 L1481.5 1388.0 L1508.5 1390.3 L1536.5 1387.7 L1563.5 1387.3 L1591.5 1398.3 L1618.5 1415.7 L1646.5 1400.7 L1673.5 1386.3 L1701.5 1386.0 L1729.5 1386.0 L1756.5 1394.0 L1784.5 1384.0 L1811.5 1382.7 L1839.5 1419.0 L1866.5 1416.3 L1894.5 1413.0 L1921.5 1408.3 L1949.5 1400.3 L1976.5 1412.7 L2004.5 1389.0 L2032.5 1382.7 L2059.5 1385.3 L2087.5 1399.0 L2114.5 1401.3 L2142.5 1400.3 L2169.5 1403.0 L2197.5 1415.0 L2224.5 1421.7 L2252.5 1415.7 L2280.5 1404.7 L2307.5 1410.0 L2335.5 1401.0 L2362.5 1392.0 L2390.5 1393.3 L2417.5 1413.3 L2445.5 1425.0 L2472.5 1444.3 L2500.5 1463.3 L2527.5 1460.0 L2555.5 1450.0 L2583.5 1446.7 L2610.5 1466.7 L2638.5 1485.0 L2665.5 1469.7 L2693.5 1479.0 L2720.5 1479.3 L2748.5 1482.3 L2775.5 1467.7 L2803.5 1486.0 L2830.5 1506.7 L2858.5 1501.0 L2858.5 1416 L10 1416 Z" fill="url(#gg)" clip-path="url(#cg)"/>
<line x1="15.5" y1="1415.5" x2="3189" y2="1415.5" stroke="#787b86" stroke-width="1" stroke-dasharray="5 6"/>
<line x1="15.5" y1="1472.5" x2="3189" y2="1472.5" stroke="#b4b6bf" stroke-width="1" stroke-dasharray="5 6"/>
<line x1="15.5" y1="1530.5" x2="3189" y2="1530.5" stroke="#787b86" stroke-width="1" stroke-dasharray="5 6"/>
<polyline points="10.0,1496.7 21.5,1497.0 48.5,1498.0 76.5,1498.7 103.5,1500.0 131.5,1501.7 158.5,1503.7 186.5,1501.3 213.5,1497.0 241.5,1494.3 269.5,1491.0 296.5,1487.7 324.5,1485.7 351.5,1482.7 379.5,1480.0 406.5,1477.7 434.5,1474.3 461.5,1471.3 489.5,1468.7 517.5,1466.0 544.5,1462.0 572.5,1461.0 599.5,1460.0 627.5,1458.0 654.5,1455.0 682.5,1452.0 709.5,1447.7 737.5,1443.3 764.5,1439.0 792.5,1436.3 820.5,1434.0 847.5,1432.0 875.5,1431.3 902.5,1430.0 930.5,1428.3 957.5,1427.0 985.5,1427.7 1012.5,1427.7 1040.5,1428.3 1067.5,1429.7 1095.5,1431.0 1123.5,1432.0 1150.5,1432.0 1178.5,1430.3 1205.5,1428.0 1233.5,1425.0 1260.5,1421.0 1288.5,1416.3 1315.5,1414.3 1343.5,1411.7 1370.5,1407.0 1398.5,1404.3 1426.5,1402.0 1453.5,1400.0 1481.5,1397.3 1508.5,1395.7 1536.5,1394.0 1563.5,1393.0 1591.5,1393.3 1618.5,1395.0 1646.5,1396.3 1673.5,1397.0 1701.5,1395.0 1729.5,1394.3 1756.5,1394.0 1784.5,1393.0 1811.5,1391.7 1839.5,1393.3 1866.5,1395.3 1894.5,1397.0 1921.5,1398.7 1949.5,1399.7 1976.5,1400.3 2004.5,1398.7 2032.5,1397.3 2059.5,1397.3 2087.5,1398.0 2114.5,1399.3 2142.5,1399.7 2169.5,1401.3 2197.5,1403.3 2224.5,1403.3 2252.5,1403.0 2280.5,1402.7 2307.5,1403.0 2335.5,1402.7 2362.5,1401.7 2390.5,1402.3 2417.5,1404.0 2445.5,1407.0 2472.5,1411.0 2500.5,1415.3 2527.5,1419.0 2555.5,1422.3 2583.5,1424.3 2610.5,1427.7 2638.5,1432.7 2665.5,1437.3 2693.5,1442.3 2720.5,1447.7 2748.5,1454.3 2775.5,1459.3 2803.5,1464.3 2830.5,1470.3 2858.5,1474.7" fill="none" stroke="#ffeb3b" stroke-width="1.5" stroke-linejoin="round"/>
<polyline points="10.0,1496.0 21.5,1497.3 48.5,1504.0 76.5,1509.0 103.5,1498.7 131.5,1495.3 158.5,1507.3 186.5,1467.3 213.5,1464.3 241.5,1468.7 269.5,1463.7 296.5,1456.0 324.5,1472.3 351.5,1461.3 379.5,1461.3 406.5,1462.0 434.5,1458.3 461.5,1458.0 489.5,1458.0 517.5,1463.0 544.5,1457.3 572.5,1456.7 599.5,1447.3 627.5,1434.0 654.5,1428.3 682.5,1409.0 709.5,1402.0 737.5,1402.0 764.5,1407.3 792.5,1427.3 820.5,1429.0 847.5,1431.0 875.5,1444.7 902.5,1444.0 930.5,1434.0 957.5,1431.3 985.5,1460.7 1012.5,1436.7 1040.5,1435.3 1067.5,1430.0 1095.5,1423.0 1123.5,1415.7 1150.5,1410.3 1178.5,1399.7 1205.5,1390.7 1233.5,1390.3 1260.5,1387.7 1288.5,1381.3 1315.5,1407.7 1343.5,1395.7 1370.5,1392.7 1398.5,1398.7 1426.5,1405.7 1453.5,1397.3 1481.5,1388.0 1508.5,1390.3 1536.5,1387.7 1563.5,1387.3 1591.5,1398.3 1618.5,1415.7 1646.5,1400.7 1673.5,1386.3 1701.5,1386.0 1729.5,1386.0 1756.5,1394.0 1784.5,1384.0 1811.5,1382.7 1839.5,1419.0 1866.5,1416.3 1894.5,1413.0 1921.5,1408.3 1949.5,1400.3 1976.5,1412.7 2004.5,1389.0 2032.5,1382.7 2059.5,1385.3 2087.5,1399.0 2114.5,1401.3 2142.5,1400.3 2169.5,1403.0 2197.5,1415.0 2224.5,1421.7 2252.5,1415.7 2280.5,1404.7 2307.5,1410.0 2335.5,1401.0 2362.5,1392.0 2390.5,1393.3 2417.5,1413.3 2445.5,1425.0 2472.5,1444.3 2500.5,1463.3 2527.5,1460.0 2555.5,1450.0 2583.5,1446.7 2610.5,1466.7 2638.5,1485.0 2665.5,1469.7 2693.5,1479.0 2720.5,1479.3 2748.5,1482.3 2775.5,1467.7 2803.5,1486.0 2830.5,1506.7 2858.5,1501.0" fill="none" stroke="#7e57c2" stroke-width="1.5" stroke-linejoin="round"/>
</g>
<text x="2918.0" y="1510.3" font-size="30" fill="#000" stroke="#000" stroke-width="0.25" textLength="191.2" lengthAdjust="spacingAndGlyphs">RSI - Below 50</text>
<text x="26.5" y="1392.3" font-size="17.4" fill="#000" stroke="#000" stroke-width="0.4" textLength="114.7" lengthAdjust="spacingAndGlyphs">RSI (14, close)</text>
<text x="152.2" y="1392.3" font-size="17.4" fill="#7e57c2" stroke="#7e57c2" stroke-width="0.4" textLength="44.6" lengthAdjust="spacingAndGlyphs">39.96</text>
<text x="207.2" y="1392.3" font-size="17.4" fill="#ffeb3b" stroke="#ffeb3b" stroke-width="0.4" textLength="45.0" lengthAdjust="spacingAndGlyphs">49.15</text>
<text x="262.9" y="1392.3" font-size="17.4" fill="#131722" stroke="#131722" stroke-width="0.4" textLength="11.3" lengthAdjust="spacingAndGlyphs">∅</text>
<text x="285.5" y="1392.3" font-size="17.4" fill="#131722" stroke="#131722" stroke-width="0.4" textLength="11.3" lengthAdjust="spacingAndGlyphs">∅</text>
<text x="308.2" y="1392.3" font-size="17.4" fill="#131722" stroke="#131722" stroke-width="0.4" textLength="11.3" lengthAdjust="spacingAndGlyphs">∅</text>
<text x="330.9" y="1392.3" font-size="17.4" fill="#131722" stroke="#131722" stroke-width="0.4" textLength="11.3" lengthAdjust="spacingAndGlyphs">∅</text>
<text x="353.9" y="1392.3" font-size="17.4" fill="#131722" stroke="#131722" stroke-width="0.4" textLength="11.3" lengthAdjust="spacingAndGlyphs">∅</text>
<text x="376.9" y="1392.3" font-size="17.4" fill="#131722" stroke="#131722" stroke-width="0.4" textLength="11.3" lengthAdjust="spacingAndGlyphs">∅</text>
<text x="3204.7" y="1400.6" font-size="24" fill="#000" stroke="#000" stroke-width="0.3" textLength="59.6" lengthAdjust="spacingAndGlyphs">77.89</text>
<text x="3204.7" y="1475.8" font-size="24" fill="#000" stroke="#000" stroke-width="0.3" textLength="59.6" lengthAdjust="spacingAndGlyphs">45.54</text>
<g clip-path="url(#cra)">
<text x="3204.7" y="1553.2" font-size="24" fill="#000" stroke="#000" stroke-width="0.3" textLength="59.6" lengthAdjust="spacingAndGlyphs">25.00</text>
</g>
<path d="M3190 1416.9h80.80000000000018a3 3 0 0 1 3 3v26.399999999999864a3 3 0 0 1 -3 3h-80.80000000000018z" fill="#ffeb3b"/>
<text x="3204.7" y="1440.9" font-size="24" fill="#000" stroke="#000" stroke-width="0.3" textLength="59.6" lengthAdjust="spacingAndGlyphs">49.15</text>
<path d="M3190 1485.3h80.80000000000018a3 3 0 0 1 3 3v27.200000000000045a3 3 0 0 1 -3 3h-80.80000000000018z" fill="#7e57c2"/>
<text x="3204.7" y="1509.7" font-size="24" fill="#fff" stroke="#fff" stroke-width="0.5" textLength="59.6" lengthAdjust="spacingAndGlyphs">39.96</text>
<text x="26.4" y="1576.0" font-size="17.4" fill="#000" stroke="#000" stroke-width="0.4" textLength="125.0" lengthAdjust="spacingAndGlyphs">Stoch (14, 5, 7)</text>
<text x="162.5" y="1576.0" font-size="17.4" fill="#2962ff" stroke="#2962ff" stroke-width="0.4" textLength="44.6" lengthAdjust="spacingAndGlyphs">16.20</text>
<text x="217.8" y="1576.0" font-size="17.4" fill="#ff6d00" stroke="#ff6d00" stroke-width="0.4" textLength="44.9" lengthAdjust="spacingAndGlyphs">19.70</text>
<g clip-path="url(#cd)">
<rect x="8.1" y="1715.2" width="26.6" height="1.0" fill="#ffcdd2"/>
<rect x="35.1" y="1715.2" width="26.6" height="2.7" fill="#ff5252"/>
<rect x="63.1" y="1715.2" width="26.6" height="3.3" fill="#ff5252"/>
<rect x="90.1" y="1715.2" width="26.6" height="1.0" fill="#ffcdd2"/>
<rect x="118.1" y="1713.5" width="26.6" height="1.7" fill="#26a69a"/>
<rect x="145.1" y="1715.2" width="26.6" height="0.7" fill="#ff5252"/>
<rect x="173.1" y="1707.9" width="26.6" height="7.3" fill="#26a69a"/>
<rect x="200.1" y="1702.9" width="26.6" height="12.3" fill="#26a69a"/>
<rect x="228.1" y="1700.9" width="26.6" height="14.3" fill="#26a69a"/>
<rect x="256.1" y="1699.9" width="26.6" height="15.3" fill="#26a69a"/>
<rect x="283.1" y="1696.9" width="26.6" height="18.3" fill="#26a69a"/>
<rect x="311.1" y="1698.9" width="26.6" height="16.3" fill="#b2dfdb"/>
<rect x="338.1" y="1698.9" width="26.6" height="16.3" fill="#26a69a"/>
<rect x="366.1" y="1699.9" width="26.6" height="15.3" fill="#b2dfdb"/>
<rect x="393.1" y="1700.9" width="26.6" height="14.3" fill="#b2dfdb"/>
<rect x="421.1" y="1701.9" width="26.6" height="13.3" fill="#b2dfdb"/>
<rect x="448.1" y="1701.9" width="26.6" height="13.3" fill="#b2dfdb"/>
<rect x="476.1" y="1703.9" width="26.6" height="11.3" fill="#b2dfdb"/>
<rect x="504.1" y="1706.9" width="26.6" height="8.3" fill="#b2dfdb"/>
<rect x="531.1" y="1706.9" width="26.6" height="8.3" fill="#b2dfdb"/>
<rect x="559.1" y="1706.9" width="26.6" height="8.3" fill="#b2dfdb"/>
<rect x="586.1" y="1706.9" width="26.6" height="8.3" fill="#26a69a"/>
<rect x="614.1" y="1704.9" width="26.6" height="10.3" fill="#26a69a"/>
<rect x="641.1" y="1703.9" width="26.6" height="11.3" fill="#26a69a"/>
<rect x="669.1" y="1699.9" width="26.6" height="15.3" fill="#26a69a"/>
<rect x="696.1" y="1695.9" width="26.6" height="19.3" fill="#26a69a"/>
<rect x="724.1" y="1694.9" width="26.6" height="20.3" fill="#26a69a"/>
<rect x="751.1" y="1695.9" width="26.6" height="19.3" fill="#b2dfdb"/>
<rect x="779.1" y="1699.9" width="26.6" height="15.3" fill="#b2dfdb"/>
<rect x="807.1" y="1702.9" width="26.6" height="12.3" fill="#b2dfdb"/>
<rect x="834.1" y="1706.9" width="26.6" height="8.3" fill="#b2dfdb"/>
<rect x="862.1" y="1710.9" width="26.6" height="4.3" fill="#b2dfdb"/>
<rect x="889.1" y="1713.9" width="26.6" height="1.3" fill="#b2dfdb"/>
<rect x="917.1" y="1714.5" width="26.6" height="0.7" fill="#b2dfdb"/>
<rect x="944.1" y="1715.2" width="26.6" height="1.7" fill="#ff5252"/>
<rect x="972.1" y="1715.2" width="26.6" height="4.7" fill="#ff5252"/>
<rect x="999.1" y="1715.2" width="26.6" height="3.7" fill="#ffcdd2"/>
<rect x="1027.1" y="1715.2" width="26.6" height="2.7" fill="#ffcdd2"/>
<rect x="1054.1" y="1715.2" width="26.6" height="1.7" fill="#ffcdd2"/>
<rect x="1082.1" y="1713.5" width="26.6" height="1.7" fill="#26a69a"/>
<rect x="1110.1" y="1711.9" width="26.6" height="3.3" fill="#26a69a"/>
<rect x="1137.1" y="1709.9" width="26.6" height="5.3" fill="#26a69a"/>
<rect x="1165.1" y="1706.9" width="26.6" height="8.3" fill="#26a69a"/>
<rect x="1192.1" y="1702.9" width="26.6" height="12.3" fill="#26a69a"/>
<rect x="1220.1" y="1701.9" width="26.6" height="13.3" fill="#26a69a"/>
<rect x="1247.1" y="1701.9" width="26.6" height="13.3" fill="#26a69a"/>
<rect x="1275.1" y="1699.9" width="26.6" height="15.3" fill="#26a69a"/>
<rect x="1302.1" y="1702.9" width="26.6" height="12.3" fill="#b2dfdb"/>
<rect x="1330.1" y="1702.9" width="26.6" height="12.3" fill="#26a69a"/>
<rect x="1357.1" y="1702.9" width="26.6" height="12.3" fill="#b2dfdb"/>
<rect x="1385.1" y="1704.9" width="26.6" height="10.3" fill="#b2dfdb"/>
<rect x="1413.1" y="1706.9" width="26.6" height="8.3" fill="#b2dfdb"/>
<rect x="1440.1" y="1707.9" width="26.6" height="7.3" fill="#b2dfdb"/>
<rect x="1468.1" y="1706.9" width="26.6" height="8.3" fill="#26a69a"/>
<rect x="1495.1" y="1706.9" width="26.6" height="8.3" fill="#b2dfdb"/>
<rect x="1523.1" y="1707.9" width="26.6" height="7.3" fill="#b2dfdb"/>
<rect x="1550.1" y="1708.9" width="26.6" height="6.3" fill="#b2dfdb"/>
<rect x="1578.1" y="1711.9" width="26.6" height="3.3" fill="#b2dfdb"/>
<rect x="1605.1" y="1715.2" width="26.6" height="1.7" fill="#ff5252"/>
<rect x="1633.1" y="1715.2" width="26.6" height="0.7" fill="#ffcdd2"/>
<rect x="1660.1" y="1710.9" width="26.6" height="4.3" fill="#26a69a"/>
<rect x="1688.1" y="1709.9" width="26.6" height="5.3" fill="#26a69a"/>
<rect x="1716.1" y="1709.9" width="26.6" height="5.3" fill="#26a69a"/>
<rect x="1743.1" y="1710.9" width="26.6" height="4.3" fill="#b2dfdb"/>
<rect x="1771.1" y="1709.9" width="26.6" height="5.3" fill="#26a69a"/>
<rect x="1798.1" y="1709.9" width="26.6" height="5.3" fill="#26a69a"/>
<rect x="1826.1" y="1713.9" width="26.6" height="1.3" fill="#b2dfdb"/>
<rect x="1853.1" y="1715.2" width="26.6" height="2.7" fill="#ff5252"/>
<rect x="1881.1" y="1715.2" width="26.6" height="4.7" fill="#ff5252"/>
<rect x="1908.1" y="1715.2" width="26.6" height="5.7" fill="#ff5252"/>
<rect x="1936.1" y="1715.2" width="26.6" height="3.3" fill="#ffcdd2"/>
<rect x="1963.1" y="1715.2" width="26.6" height="4.7" fill="#ff5252"/>
<rect x="1991.1" y="1712.9" width="26.6" height="2.3" fill="#26a69a"/>
<rect x="2019.1" y="1706.9" width="26.6" height="8.3" fill="#26a69a"/>
<rect x="2046.1" y="1703.9" width="26.6" height="11.3" fill="#26a69a"/>
<rect x="2074.1" y="1705.9" width="26.6" height="9.3" fill="#b2dfdb"/>
<rect x="2101.1" y="1707.9" width="26.6" height="7.3" fill="#b2dfdb"/>
<rect x="2129.1" y="1710.9" width="26.6" height="4.3" fill="#b2dfdb"/>
<rect x="2156.1" y="1713.9" width="26.6" height="1.3" fill="#b2dfdb"/>
<rect x="2184.1" y="1715.2" width="26.6" height="3.7" fill="#ff5252"/>
<rect x="2211.1" y="1715.2" width="26.6" height="6.7" fill="#ff5252"/>
<rect x="2239.1" y="1715.2" width="26.6" height="8.7" fill="#ff5252"/>
<rect x="2267.1" y="1715.2" width="26.6" height="7.7" fill="#ffcdd2"/>
<rect x="2294.1" y="1715.2" width="26.6" height="7.7" fill="#ff5252"/>
<rect x="2322.1" y="1715.2" width="26.6" height="6.7" fill="#ffcdd2"/>
<rect x="2349.1" y="1715.2" width="26.6" height="2.7" fill="#ffcdd2"/>
<rect x="2377.1" y="1715.2" width="26.6" height="1.3" fill="#ffcdd2"/>
<rect x="2404.1" y="1715.2" width="26.6" height="2.7" fill="#ff5252"/>
<rect x="2432.1" y="1715.2" width="26.6" height="5.7" fill="#ff5252"/>
<rect x="2459.1" y="1715.2" width="26.6" height="10.7" fill="#ff5252"/>
<rect x="2487.1" y="1715.2" width="26.6" height="16.7" fill="#ff5252"/>
<rect x="2514.1" y="1715.2" width="26.6" height="18.7" fill="#ff5252"/>
<rect x="2542.1" y="1715.2" width="26.6" height="18.7" fill="#ffcdd2"/>
<rect x="2570.1" y="1715.2" width="26.6" height="17.7" fill="#ffcdd2"/>
<rect x="2597.1" y="1715.2" width="26.6" height="19.7" fill="#ff5252"/>
<rect x="2625.1" y="1715.2" width="26.6" height="22.7" fill="#ff5252"/>
<rect x="2652.1" y="1715.2" width="26.6" height="21.7" fill="#ffcdd2"/>
<rect x="2680.1" y="1715.2" width="26.6" height="22.7" fill="#ff5252"/>
<rect x="2707.1" y="1715.2" width="26.6" height="21.7" fill="#ffcdd2"/>
<rect x="2735.1" y="1715.2" width="26.6" height="21.7" fill="#ffcdd2"/>
<rect x="2762.1" y="1715.2" width="26.6" height="17.5" fill="#ffcdd2"/>
<rect x="2790.1" y="1715.2" width="26.6" height="18.6" fill="#ff5252"/>
<rect x="2817.1" y="1715.2" width="26.6" height="21.6" fill="#ff5252"/>
<rect x="2845.1" y="1715.2" width="26.6" height="21.6" fill="#ff5252"/>
<line x1="15.5" y1="1715.5" x2="3189" y2="1715.5" stroke="#9b9ea8" stroke-width="1" stroke-dasharray="5 6"/>
<polyline points="10.0,1759.7 21.5,1759.7 48.5,1760.0 76.5,1760.7 103.5,1760.7 131.5,1760.3 158.5,1760.3 186.5,1759.0 213.5,1756.0 241.5,1752.7 269.5,1748.3 296.5,1743.7 324.5,1739.7 351.5,1735.7 379.5,1732.0 406.5,1728.3 434.5,1725.0 461.5,1721.7 489.5,1718.7 517.5,1716.7 544.5,1714.3 572.5,1712.3 599.5,1710.3 627.5,1707.7 654.5,1704.3 682.5,1700.0 709.5,1695.3 737.5,1690.3 764.5,1685.7 792.5,1682.3 820.5,1679.3 847.5,1677.7 875.5,1676.7 902.5,1676.0 930.5,1676.0 957.5,1676.0 985.5,1677.0 1012.5,1677.7 1040.5,1678.3 1067.5,1678.3 1095.5,1678.0 1123.5,1677.3 1150.5,1676.0 1178.5,1674.0 1205.5,1671.0 1233.5,1667.7 1260.5,1664.3 1288.5,1660.7 1315.5,1657.3 1343.5,1654.3 1370.5,1651.3 1398.5,1648.3 1426.5,1646.3 1453.5,1644.7 1481.5,1642.3 1508.5,1640.3 1536.5,1638.3 1563.5,1637.0 1591.5,1636.3 1618.5,1636.7 1646.5,1636.7 1673.5,1635.7 1701.5,1634.0 1729.5,1632.3 1756.5,1631.3 1784.5,1630.0 1811.5,1628.7 1839.5,1628.3 1866.5,1629.0 1894.5,1630.0 1921.5,1631.0 1949.5,1632.0 1976.5,1633.0 2004.5,1632.7 2032.5,1630.3 2059.5,1627.7 2087.5,1625.3 2114.5,1623.7 2142.5,1622.7 2169.5,1622.0 2197.5,1622.7 2224.5,1624.3 2252.5,1626.3 2280.5,1628.0 2307.5,1629.7 2335.5,1631.0 2362.5,1631.3 2390.5,1631.7 2417.5,1632.0 2445.5,1633.3 2472.5,1636.7 2500.5,1641.0 2527.5,1645.7 2555.5,1650.3 2583.5,1654.3 2610.5,1658.3 2638.5,1664.0 2665.5,1669.0 2693.5,1674.3 2720.5,1679.3 2748.5,1684.3 2775.5,1688.3 2803.5,1693.0 2830.5,1698.0 2858.5,1703.0" fill="none" stroke="#ff6d00" stroke-width="1.5" stroke-linejoin="round"/>
<polyline points="10.0,1761.0 21.5,1761.0 48.5,1761.3 76.5,1762.7 103.5,1761.7 131.5,1759.3 158.5,1760.3 186.5,1751.7 213.5,1743.7 241.5,1738.7 269.5,1732.7 296.5,1726.0 324.5,1724.3 351.5,1720.3 379.5,1717.0 406.5,1714.0 434.5,1711.0 461.5,1709.0 489.5,1707.3 517.5,1706.7 544.5,1705.3 572.5,1704.3 599.5,1702.3 627.5,1698.0 654.5,1694.0 682.5,1685.3 709.5,1676.7 737.5,1670.7 764.5,1666.7 792.5,1666.7 820.5,1667.3 847.5,1669.0 875.5,1672.0 902.5,1674.7 930.5,1675.7 957.5,1677.3 985.5,1681.3 1012.5,1680.7 1040.5,1680.0 1067.5,1679.0 1095.5,1677.0 1123.5,1674.3 1150.5,1671.3 1178.5,1666.0 1205.5,1659.0 1233.5,1654.7 1260.5,1650.7 1288.5,1646.0 1315.5,1646.0 1343.5,1642.0 1370.5,1639.0 1398.5,1638.0 1426.5,1639.0 1453.5,1638.0 1481.5,1634.3 1508.5,1633.0 1536.5,1631.3 1563.5,1631.0 1591.5,1633.0 1618.5,1637.0 1646.5,1636.7 1673.5,1631.3 1701.5,1628.3 1729.5,1627.0 1756.5,1628.0 1784.5,1625.3 1811.5,1623.7 1839.5,1628.7 1866.5,1631.7 1894.5,1634.0 1921.5,1636.0 1949.5,1635.3 1976.5,1637.3 2004.5,1629.3 2032.5,1621.7 2059.5,1617.0 2087.5,1616.0 2114.5,1617.0 2142.5,1618.0 2169.5,1620.3 2197.5,1625.0 2224.5,1630.3 2252.5,1634.3 2280.5,1634.7 2307.5,1636.3 2335.5,1636.0 2362.5,1633.0 2390.5,1632.0 2417.5,1634.3 2445.5,1639.3 2472.5,1646.7 2500.5,1655.0 2527.5,1662.7 2555.5,1666.7 2583.5,1669.7 2610.5,1676.3 2638.5,1685.0 2665.5,1689.3 2693.5,1695.0 2720.5,1700.0 2748.5,1704.0 2775.5,1705.0 2803.5,1709.7 2830.5,1718.7 2858.5,1724.3" fill="none" stroke="#2962ff" stroke-width="1.5" stroke-linejoin="round"/>
</g>
<text x="2917.0" y="1714.0" font-size="30" fill="#000" stroke="#000" stroke-width="0.25" textLength="256.2" lengthAdjust="spacingAndGlyphs">MACD - Below Zero</text>
<text x="26.5" y="1627.3" font-size="17.4" fill="#000" stroke="#000" stroke-width="0.4" textLength="166.7" lengthAdjust="spacingAndGlyphs">MACD (12, 26, close)</text>
<text x="204.2" y="1627.3" font-size="17.4" fill="#f7525f" stroke="#f7525f" stroke-width="0.4" textLength="73.0" lengthAdjust="spacingAndGlyphs">−0.00126</text>
<text x="287.5" y="1627.3" font-size="17.4" fill="#2962ff" stroke="#2962ff" stroke-width="0.4" textLength="73.3" lengthAdjust="spacingAndGlyphs">−0.00054</text>
<text x="371.2" y="1627.3" font-size="17.4" fill="#ff6d00" stroke="#ff6d00" stroke-width="0.4" textLength="63.3" lengthAdjust="spacingAndGlyphs">0.00073</text>
<text x="3204.7" y="1639.2" font-size="24" fill="#000" stroke="#000" stroke-width="0.3" textLength="85.0" lengthAdjust="spacingAndGlyphs">0.00500</text>
<path d="M3190 1651.8h106.80000000000018a3 3 0 0 1 3 3v27.700000000000045a3 3 0 0 1 -3 3h-106.80000000000018z" fill="#ff6d00"/>
<text x="3204.7" y="1676.5" font-size="24" fill="#fff" stroke="#fff" stroke-width="0.5" textLength="85.0" lengthAdjust="spacingAndGlyphs">0.00073</text>
<path d="M3190 1685.5h118.80000000000018a3 3 0 0 1 3 3v28.0a3 3 0 0 1 -3 3h-118.80000000000018z" fill="#2962ff"/>
<text x="3204.7" y="1710.3" font-size="24" fill="#fff" stroke="#fff" stroke-width="0.5" textLength="97.4" lengthAdjust="spacingAndGlyphs">−0.00054</text>
<path d="M3190 1719.5h118.80000000000018a3 3 0 0 1 3 3v28.0a3 3 0 0 1 -3 3h-118.80000000000018z" fill="#f7525f"/>
<text x="3204.7" y="1744.3" font-size="24" fill="#fff" stroke="#fff" stroke-width="0.5" textLength="97.4" lengthAdjust="spacingAndGlyphs">−0.00126</text>
<text x="26.4" y="1808.7" font-size="17.4" fill="#000" stroke="#000" stroke-width="0.4" textLength="113.4" lengthAdjust="spacingAndGlyphs">ATR (14, RMA)</text>
<text x="150.1" y="1808.7" font-size="17.4" fill="#f23645" stroke="#f23645" stroke-width="0.4" textLength="64.2" lengthAdjust="spacingAndGlyphs">0.00318</text>
<line x1="15.5" y1="1362.7" x2="3318" y2="1362.7" stroke="#a3a7b5" stroke-width="1"/>
<line x1="15.5" y1="1546.6" x2="3318" y2="1546.6" stroke="#a3a7b5" stroke-width="1"/>
<line x1="15.5" y1="1597.3" x2="3318" y2="1597.3" stroke="#a3a7b5" stroke-width="1"/>
<line x1="15.5" y1="1779.3" x2="3318" y2="1779.3" stroke="#a3a7b5" stroke-width="1"/>
<line x1="15.5" y1="1829.5" x2="3318" y2="1829.5" stroke="#000" stroke-width="1.2"/>
<line x1="3189.5" y1="42" x2="3189.5" y2="1882.5" stroke="#000" stroke-width="1.2"/>
<text x="75.7" y="1862.9" font-size="24" fill="#000" stroke="#000" stroke-width="0.3" text-anchor="middle">8</text>
<text x="241.0" y="1862.9" font-size="24" fill="#000" stroke="#000" stroke-width="0.3" text-anchor="middle">9</text>
<text x="406.3" y="1862.9" font-size="24" fill="#000" stroke="#000" stroke-width="0.3" text-anchor="middle">12</text>
<text x="571.5" y="1862.9" font-size="24" fill="#000" stroke="#000" stroke-width="0.3" text-anchor="middle">13</text>
<text x="736.8" y="1862.9" font-size="24" fill="#000" stroke="#000" stroke-width="0.3" text-anchor="middle">14</text>
<text x="902.1" y="1862.9" font-size="24" fill="#000" stroke="#000" stroke-width="0.3" text-anchor="middle">15</text>
<text x="1067.4" y="1862.9" font-size="24" fill="#000" stroke="#000" stroke-width="0.3" text-anchor="middle">16</text>
<text x="1232.7" y="1862.9" font-size="24" fill="#000" stroke="#000" stroke-width="0.3" text-anchor="middle">19</text>
<text x="1397.9" y="1862.9" font-size="24" fill="#000" stroke="#000" stroke-width="0.3" text-anchor="middle">20</text>
<text x="1563.2" y="1862.9" font-size="24" fill="#000" stroke="#000" stroke-width="0.3" text-anchor="middle">21</text>
<text x="1728.5" y="1862.9" font-size="24" fill="#000" stroke="#000" stroke-width="0.3" text-anchor="middle">22</text>
<text x="1893.8" y="1862.9" font-size="24" fill="#000" stroke="#000" stroke-width="0.3" text-anchor="middle">23</text>
<text x="2059.1" y="1862.9" font-size="24" fill="#000" stroke="#000" stroke-width="0.3" text-anchor="middle">26</text>
<text x="2224.3" y="1862.9" font-size="24" fill="#000" stroke="#000" stroke-width="0.3" text-anchor="middle">27</text>
<text x="2389.6" y="1862.9" font-size="24" fill="#000" stroke="#000" stroke-width="0.3" text-anchor="middle">28</text>
<text x="2554.9" y="1862.9" font-size="24" fill="#000" stroke="#000" stroke-width="0.3" text-anchor="middle">29</text>
<text x="2720.2" y="1862.9" font-size="24" fill="#000" stroke="#000" stroke-width="0.3" text-anchor="middle">30</text>
<text x="2864.9" y="1862.8" font-size="24" fill="#000" stroke="#000" stroke-width="0.3" textLength="40.8" lengthAdjust="spacingAndGlyphs" font-weight="bold">Sep</text>
<text x="3050.7" y="1862.9" font-size="24" fill="#000" stroke="#000" stroke-width="0.3" text-anchor="middle">3</text>
<g fill="#131722"><path d="M15.1 1901.4h11.1v14.6h-6.4v-9.2h-4.7z"/><circle cx="31.7" cy="1904.2" r="2.8"/><path d="M37 1901.4h7.4l-5.5 14.6h-7.2z"/></g>
<text x="49.2" y="1916.3" font-size="18" fill="#131722" stroke="#131722" stroke-width="0.4" textLength="106.4" lengthAdjust="spacingAndGlyphs">TradingView</text>
</svg>
</body></html>
